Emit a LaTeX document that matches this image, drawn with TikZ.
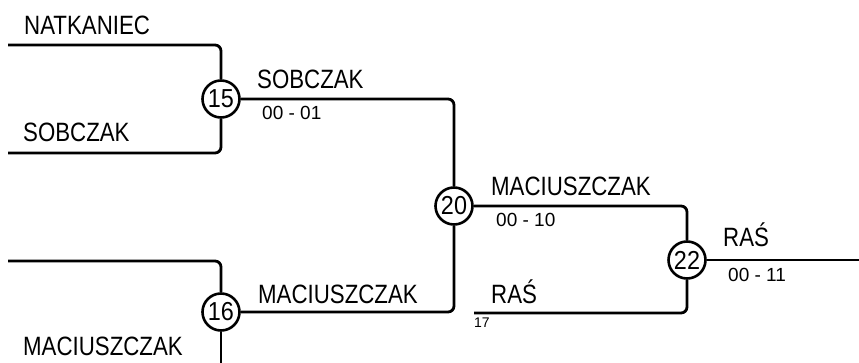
\documentclass[tikz,border=0pt]{standalone}
\usepackage{fontspec}
\setmainfont[FakeStretch=0.84]{Liberation Sans}
\newfontfamily\scorefont{Liberation Sans}
\newfontfamily\gamefont[FakeStretch=0.9]{Liberation Sans}
\begin{document}
\begin{tikzpicture}[x=1pt,y=-1pt,
  wire/.style={line width=2.8pt, rounded corners=6pt},
  game/.style={circle, draw, line width=2.6pt, inner sep=0pt, minimum size=37pt, font=\gamefont\fontsize{26}{26}\selectfont},
  player/.style={anchor=base west, inner sep=0pt, font=\fontsize{26.5}{26.5}\selectfont},
  scoretxt/.style={anchor=base west, inner sep=0pt, font=\scorefont\fontsize{19}{19}\selectfont},
  tinytxt/.style={anchor=base west, inner sep=0pt, font=\scorefont\fontsize{14}{14}\selectfont}]
\clip (0,0) rectangle (859,363);
\node[game] (g15) at (221,99) {15};
\node[game] (g16) at (221,312) {16};
\node[game] (g20) at (454,206) {20};
\node[game] (g22) at (687,260) {22};
\coordinate (a1) at (8,45);
\coordinate (a2) at (8,153);
\coordinate (b1) at (8,261);
\coordinate (b2) at (221,375);
\coordinate (c2) at (474,313);
\coordinate (fin) at (870,260);
\draw[wire] (a1) -| (g15.north);
\draw[wire] (a2) -| (g15.south);
\draw[wire] (b1) -| (g16.north);
\draw[wire] (g16.south) -- (b2);
\draw[wire] (g15.east) -| (g20.north);
\draw[wire] (g16.east) -| (g20.south);
\draw[wire] (g20.east) -| (g22.north);
\draw[wire] (c2) -| (g22.south);
\draw[wire] (g22.east) -- (fin);
\node[player] (t1) at (24,35) {NATKANIEC};
\node[player] (t2) at (23,142) {SOBCZAK};
\node[player] (t3) at (23,355) {MACIUSZCZAK};
\node[player] (t4) at (257,89) {SOBCZAK};
\node[scoretxt] (s4) at (262,120) {00 - 01};
\node[player] (t5) at (258,303) {MACIUSZCZAK};
\node[player] (t6) at (491,196) {MACIUSZCZAK};
\node[scoretxt] (s6) at (496,227) {00 - 10};
\node[player] (t7) at (491,303) {RAŚ};
\node[tinytxt] (s7) at (474,327) {17};
\node[player] (t8) at (723,247) {RAŚ};
\node[scoretxt] (s8) at (728,281) {00 - 11};
\end{tikzpicture}
\end{document}
